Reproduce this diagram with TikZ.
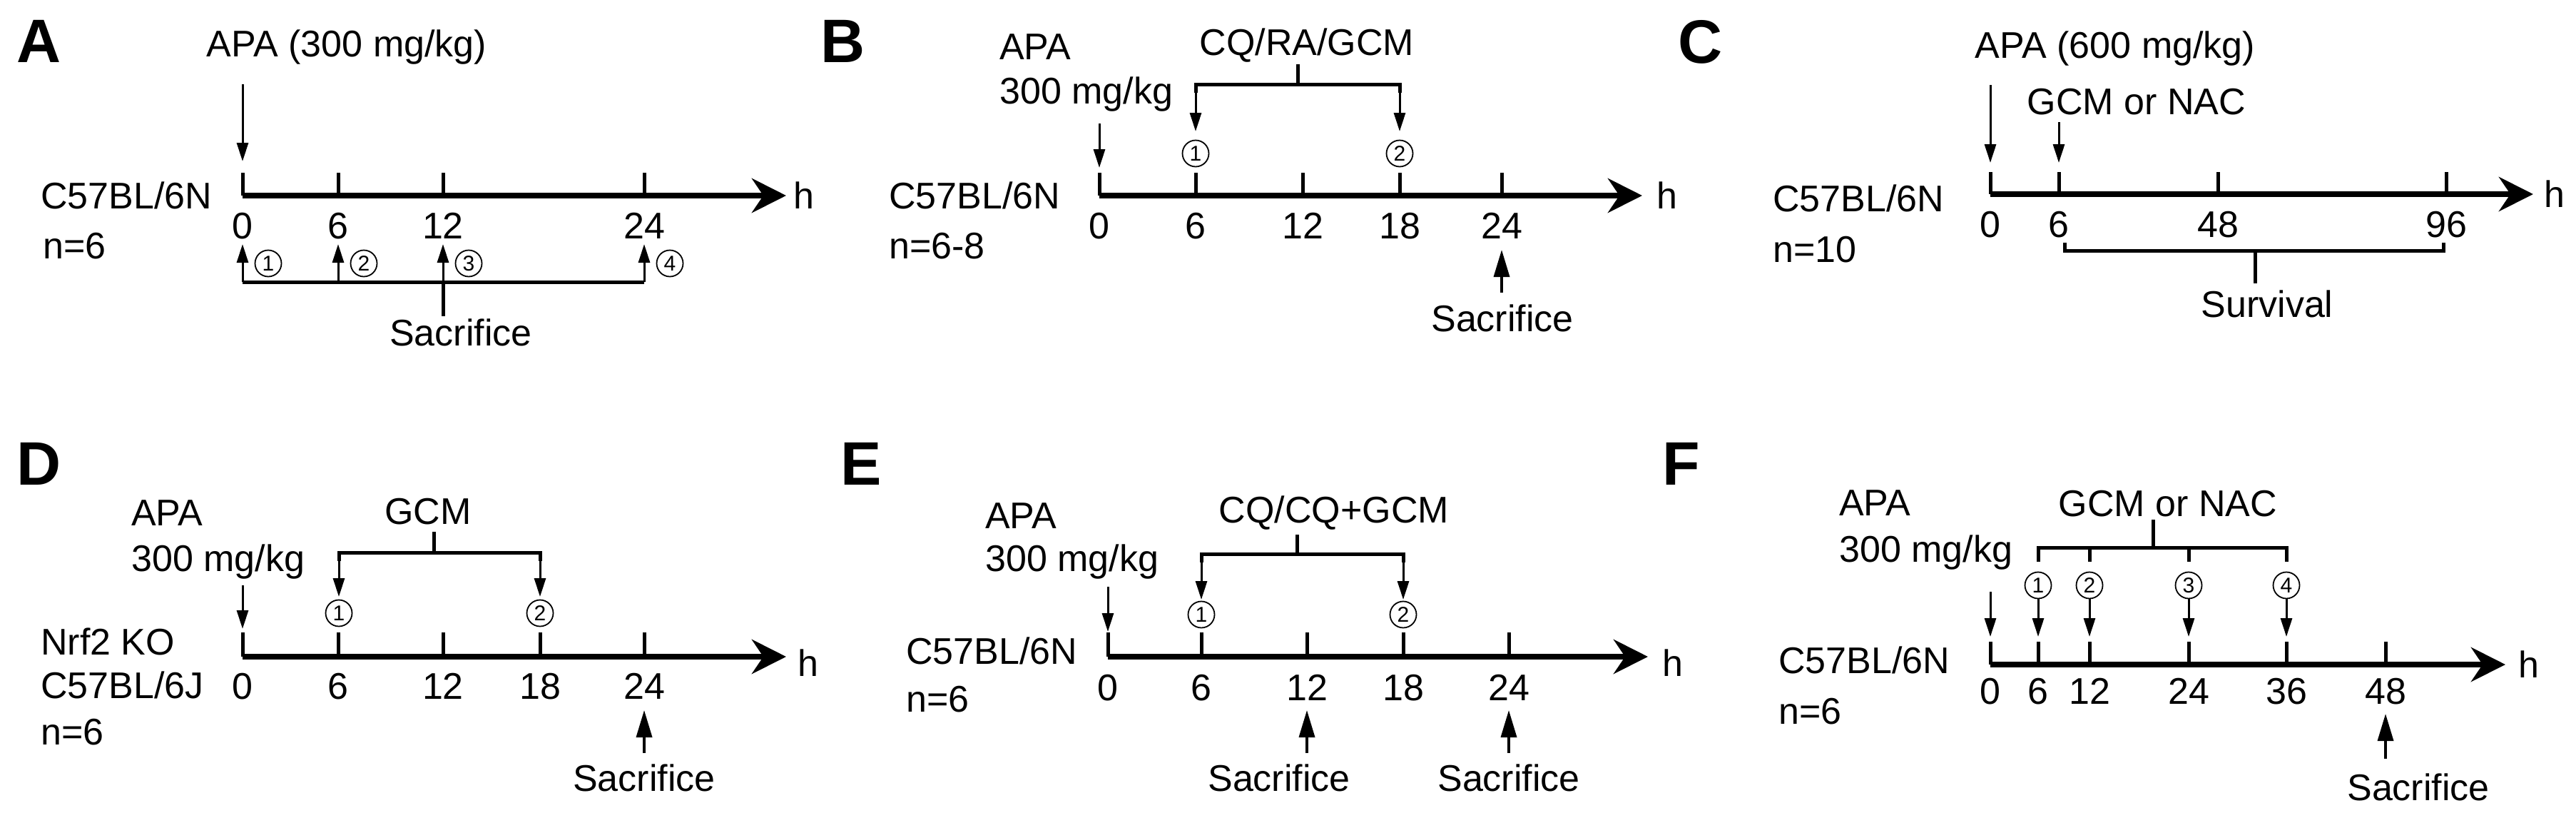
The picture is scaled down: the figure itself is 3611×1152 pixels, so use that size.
\documentclass[tikz,border=0pt]{standalone}
\usepackage{fontspec}
\setmainfont{Liberation Sans}
\usetikzlibrary{arrows.meta}
\begin{document}
\begin{tikzpicture}[x=1pt,y=-1pt,
  axis/.style={line width=8pt,-{Stealth[length=48pt,width=48pt,inset=16pt]}},
  tk/.style={line width=5pt},
  arr/.style={line width=3pt,-{Triangle[length=26pt,width=16pt]}},
  sarr/.style={line width=3.5pt,-{Triangle[length=38pt,width=22pt]}},
  brk/.style={line width=5pt},
  txt/.style={font=\fontsize{52}{60}\selectfont,inner sep=0pt},
  lab/.style={font=\fontsize{86}{90}\selectfont\bfseries,inner sep=0pt},
  circ/.style={circle,draw,line width=1.8pt,inner sep=0pt,minimum size=37pt,font=\fontsize{30}{30}\selectfont}]
\useasboundingbox (0,0) rectangle (3611,1152);
% ================= A
\node[lab,anchor=north west] (la) at (23,28) {A};
\node[txt] (apaA) at (486,66) {APA (300 mg/kg)};
\coordinate (aA0) at (340,118); \coordinate (aA1) at (340,226);
\draw[arr] (aA0) -- (aA1);
\coordinate (axA0) at (340,274); \coordinate (axA1) at (1102,274);
\foreach \x/\t in {340/0,474/6,621/12,903/24}{
  \draw[tk] (\x,242) -- (\x,274);
  \node[txt,anchor=north] at (\x,298) {\t};}
\draw[axis] (axA0) -- (axA1);
\node[txt,anchor=west] (hA) at (1112,274) {h};
\node[txt,anchor=west] (sA) at (57,274) {C57BL/6N};
\node[txt,anchor=west] (nA) at (60,345) {n=6};
\draw[brk] (340,395) -- (903,395);
\foreach \x/\c in {340/1,474/2,621/3,903/4}{
  \draw[arr] (\x,395) -- (\x,342);
  \node[circ] at (\x+36,369) {\c};}
\coordinate (stA) at (621,395); \node[txt] (sacA) at (646,466) {Sacrifice};
\draw[brk] (stA) -- (621,443);
% ================= B
\node[lab,anchor=north west] (lb) at (1150,28) {B};
\node[txt,anchor=west] (apaB) at (1401,66) {APA};
\node[txt,anchor=west] (doseB) at (1401,132) {300 mg/kg};
\node[txt] (drB) at (1832,64) {CQ/RA/GCM};
\draw[arr] (1541,173) -- (1541,235);
\foreach \x/\t in {1541/0,1676/6,1826/12,1962/18,2105/24}{
  \draw[tk] (\x,242) -- (\x,274);
  \node[txt,anchor=north] at (\x,298) {\t};}
\draw[axis] (1541,274) -- (2302,274);
\node[txt,anchor=west] (hB) at (2322,274) {h};
\node[txt,anchor=west] (sB) at (1246,274) {C57BL/6N};
\node[txt,anchor=west] (nB) at (1246,345) {n=6-8};
\draw[brk] (1676,130) -- (1676,118) -- (1962,118) -- (1962,130);
\draw[brk] (1819,118) -- (1819,90);
\foreach \x/\c in {1676/1,1962/2}{
  \draw[arr] (\x,128) -- (\x,184);
  \node[circ] at (\x,215) {\c};}
\node[txt] (sacB) at (2106,446) {Sacrifice};
\draw[sarr] (2105,410) -- (2105,350);
% ================= C
\node[lab,anchor=north west] (lc) at (2352,28) {C};
\node[txt] (apaC) at (2965,68) {APA (600 mg/kg)};
\node[txt] (drC) at (2995,143) {GCM or NAC};
\draw[arr] (2790,119) -- (2790,228);
\draw[arr] (2886,171) -- (2886,228);
\foreach \x/\t in {2790/0,2886/6,3109/48,3429/96}{
  \draw[tk] (\x,241) -- (\x,272);
  \node[txt,anchor=north] at (\x,296) {\t};}
\draw[axis] (2790,272) -- (3551,272);
\node[txt,anchor=west] (hC) at (3566,272) {h};
\node[txt,anchor=west] (sC) at (2485,278) {C57BL/6N};
\node[txt,anchor=west] (nC) at (2485,350) {n=10};
\draw[brk] (2894,340) -- (2894,351) -- (3425,351) -- (3425,340);
\draw[brk] (3161,351) -- (3161,397);
\node[txt] (survC) at (3178,426) {Survival};
% ================= D
\node[lab,anchor=north west] (ld) at (23,620) {D};
\node[txt,anchor=west] (apaD) at (184,719) {APA};
\node[txt,anchor=west] (doseD) at (184,787) {300 mg/kg};
\node[txt] (drD) at (600,717) {GCM};
\draw[arr] (340,820) -- (340,881);
\foreach \x/\t in {340/0,474/6,621/12,757/18,903/24}{
  \draw[tk] (\x,886) -- (\x,920);
  \node[txt,anchor=north] at (\x,943) {\t};}
\draw[axis] (340,920) -- (1102,920);
\node[txt,anchor=west] (hD) at (1118,929) {h};
\node[txt,anchor=west] (kD) at (57,899) {Nrf2 KO};
\node[txt,anchor=west] (sD) at (57,960) {C57BL/6J};
\node[txt,anchor=west] (nD) at (57,1026) {n=6};
\draw[brk] (475,786) -- (475,774) -- (757,774) -- (757,786);
\draw[brk] (608,774) -- (608,745);
\foreach \x/\c in {475/1,757/2}{
  \draw[arr] (\x,784) -- (\x,836);
  \node[circ] at (\x,859) {\c};}
\node[txt] (sacD) at (903,1090) {Sacrifice};
\draw[sarr] (903,1055) -- (903,995);
% ================= E
\node[lab,anchor=north west] (le) at (1178,620) {E};
\node[txt,anchor=west] (apaE) at (1381,723) {APA};
\node[txt,anchor=west] (doseE) at (1381,787) {300 mg/kg};
\node[txt] (drE) at (1870,719) {CQ/CQ+GCM};
\draw[arr] (1553,822) -- (1553,885);
\foreach \x/\t in {1553/0,1684/6,1832/12,1967/18,2115/24}{
  \draw[tk] (\x,886) -- (\x,920);
  \node[txt,anchor=north] at (\x,945) {\t};}
\draw[axis] (1553,920) -- (2310,920);
\node[txt,anchor=west] (hE) at (2330,929) {h};
\node[txt,anchor=west] (sE) at (1270,912) {C57BL/6N};
\node[txt,anchor=west] (nE) at (1270,980) {n=6};
\draw[brk] (1684,788) -- (1684,776) -- (1967,776) -- (1967,788);
\draw[brk] (1818,776) -- (1818,749);
\foreach \x/\c in {1684/1,1967/2}{
  \draw[arr] (\x,786) -- (\x,840);
  \node[circ] at (\x,861) {\c};}
\node[txt] (sacE1) at (1793,1090) {Sacrifice};
\node[txt] (sacE2) at (2115,1090) {Sacrifice};
\draw[sarr] (1832,1055) -- (1832,995);
\draw[sarr] (2115,1055) -- (2115,995);
% ================= F
\node[lab,anchor=north west] (lf) at (2330,620) {F};
\node[txt,anchor=west] (apaF) at (2578,705) {APA};
\node[txt,anchor=west] (doseF) at (2578,774) {300 mg/kg};
\node[txt] (drF) at (3039,706) {GCM or NAC};
\draw[arr] (2790,829) -- (2790,892);
\foreach \x/\t in {2790/0,2857/6,2929/12,3068/24,3205/36,3344/48}{
  \draw[tk] (\x,899) -- (\x,931);
  \node[txt,anchor=north] at (\x,950) {\t};}
\draw[axis] (2790,931) -- (3512,931);
\node[txt,anchor=west] (hF) at (3530,931) {h};
\node[txt,anchor=west] (sF) at (2493,925) {C57BL/6N};
\node[txt,anchor=west] (nF) at (2493,997) {n=6};
\draw[brk] (2857,787) -- (2857,767) -- (3205,767) -- (3205,787);
\draw[brk] (2929,767) -- (2929,787);
\draw[brk] (3068,767) -- (3068,787);
\draw[brk] (3018,767) -- (3018,728);
\foreach \x/\c in {2857/1,2929/2,3068/3,3205/4}{
  \node[circ] (cF\c) at (\x,820) {\c};
  \draw[arr] (cF\c.south) -- (\x,892);}
\node[txt] (sacF) at (3390,1103) {Sacrifice};
\draw[sarr] (3344,1063) -- (3344,1000);
\end{tikzpicture}
\end{document}
